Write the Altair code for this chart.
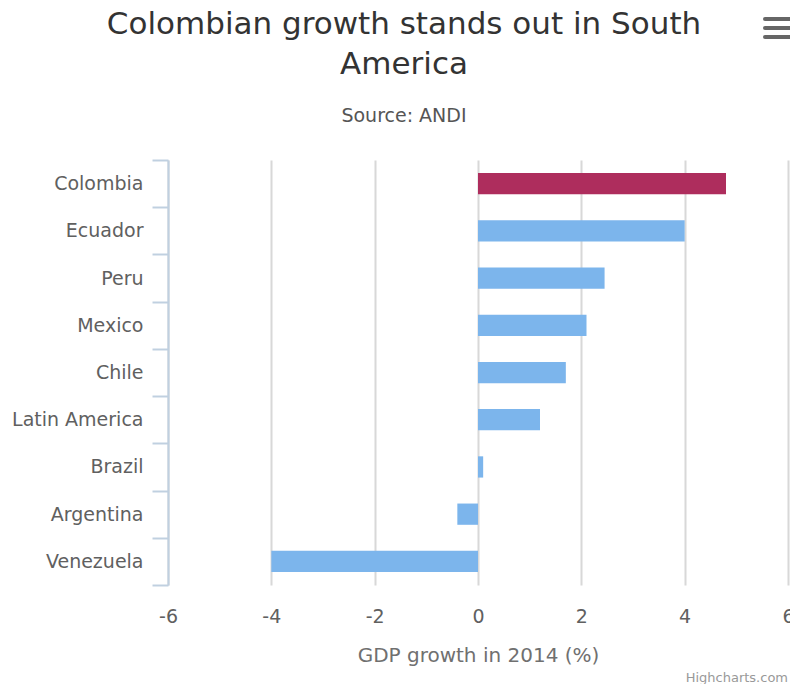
import altair as alt
import pandas as pd

countries = ["Colombia", "Ecuador", "Peru", "Mexico", "Chile",
             "Latin America", "Brazil", "Argentina", "Venezuela"]
growth = [4.8, 4.0, 2.45, 2.1, 1.7, 1.2, 0.1, -0.4, -4.0]
x_ticks = [-6, -4, -2, 0, 2, 4, 6]
highlight = "Colombia"

title_lines = ["Colombian growth stands out in South", "America"]
subtitle = "Source: ANDI"
x_title = "GDP growth in 2014 (%)"
credits = "Highcharts.com"

df = pd.DataFrame({"country": countries, "growth": growth})

FONT = "DejaVu Sans"

bars = alt.Chart(df).mark_bar(height=alt.RelativeBandSize(0.45)).encode(
    x=alt.X(
        "growth:Q",
        scale=alt.Scale(domain=[-6, 6], nice=False, zero=True),
        axis=alt.Axis(
            values=x_ticks,
            title=x_title,
            domain=False,
            ticks=False,
            grid=True,
            gridColor="#D8D8D8",
            gridWidth=2,
            labelFont=FONT,
            labelFontSize=19,
            labelColor="#606060",
            labelPadding=22,
            labelFlush=False,
            labelOverlap=False,
            labelExpr="datum.value < 0 ? '-' + abs(datum.value) : '' + datum.value",
            titleFont=FONT,
            titleFontSize=20,
            titleFontWeight="normal",
            titleColor="#707070",
            titleY=76,
            titleBaseline="alphabetic",
        ),
    ),
    y=alt.Y(
        "country:N",
        sort=countries,
        scale=alt.Scale(paddingInner=0, paddingOuter=0),
        axis=alt.Axis(
            title=None,
            grid=False,
            domainColor="#C0D0E0",
            domainWidth=2,
            tickColor="#C0D0E0",
            tickWidth=2,
            tickSize=16,
            tickBand="extent",
            labelFont=FONT,
            labelFontSize=19,
            labelColor="#606060",
            labelPadding=9,
        ),
    ),
    color=alt.condition(
        alt.datum.country == highlight,
        alt.value("#ae2d5d"),
        alt.value("#7cb5ec"),
    ),
)

dummy = alt.Data(values=[{}])

credit_text = alt.Chart(dummy).mark_text(
    text=credits, font=FONT, fontSize=13, color="#999999",
    align="right", baseline="alphabetic"
).encode(x=alt.value(620), y=alt.value(522))

menu_layers = [
    alt.Chart(dummy).mark_rule(color="#666666", strokeWidth=4, strokeCap="round").encode(
        x=alt.value(597), x2=alt.value(624), y=alt.value(yy)
    )
    for yy in (-141, -132, -123)
]

chart = alt.layer(bars, credit_text, *menu_layers).properties(
    width=620,
    height=425,
    background="white",
    autosize=alt.AutoSizeParams(type="none"),
    padding={"left": 160, "top": 152, "right": 2, "bottom": 99},
    title=alt.TitleParams(
        text=title_lines,
        subtitle=subtitle,
        font=FONT,
        fontSize=31,
        fontWeight="normal",
        color="#333333",
        lineHeight=40,
        subtitleFont=FONT,
        subtitleFontSize=19,
        subtitleColor="#555555",
        subtitlePadding=26,
        anchor="middle",
        dx=-74,
        offset=-110,
    ),
).configure_view(stroke=None)

chart.save("out.html", embed_options={"renderer": "svg", "actions": False})
